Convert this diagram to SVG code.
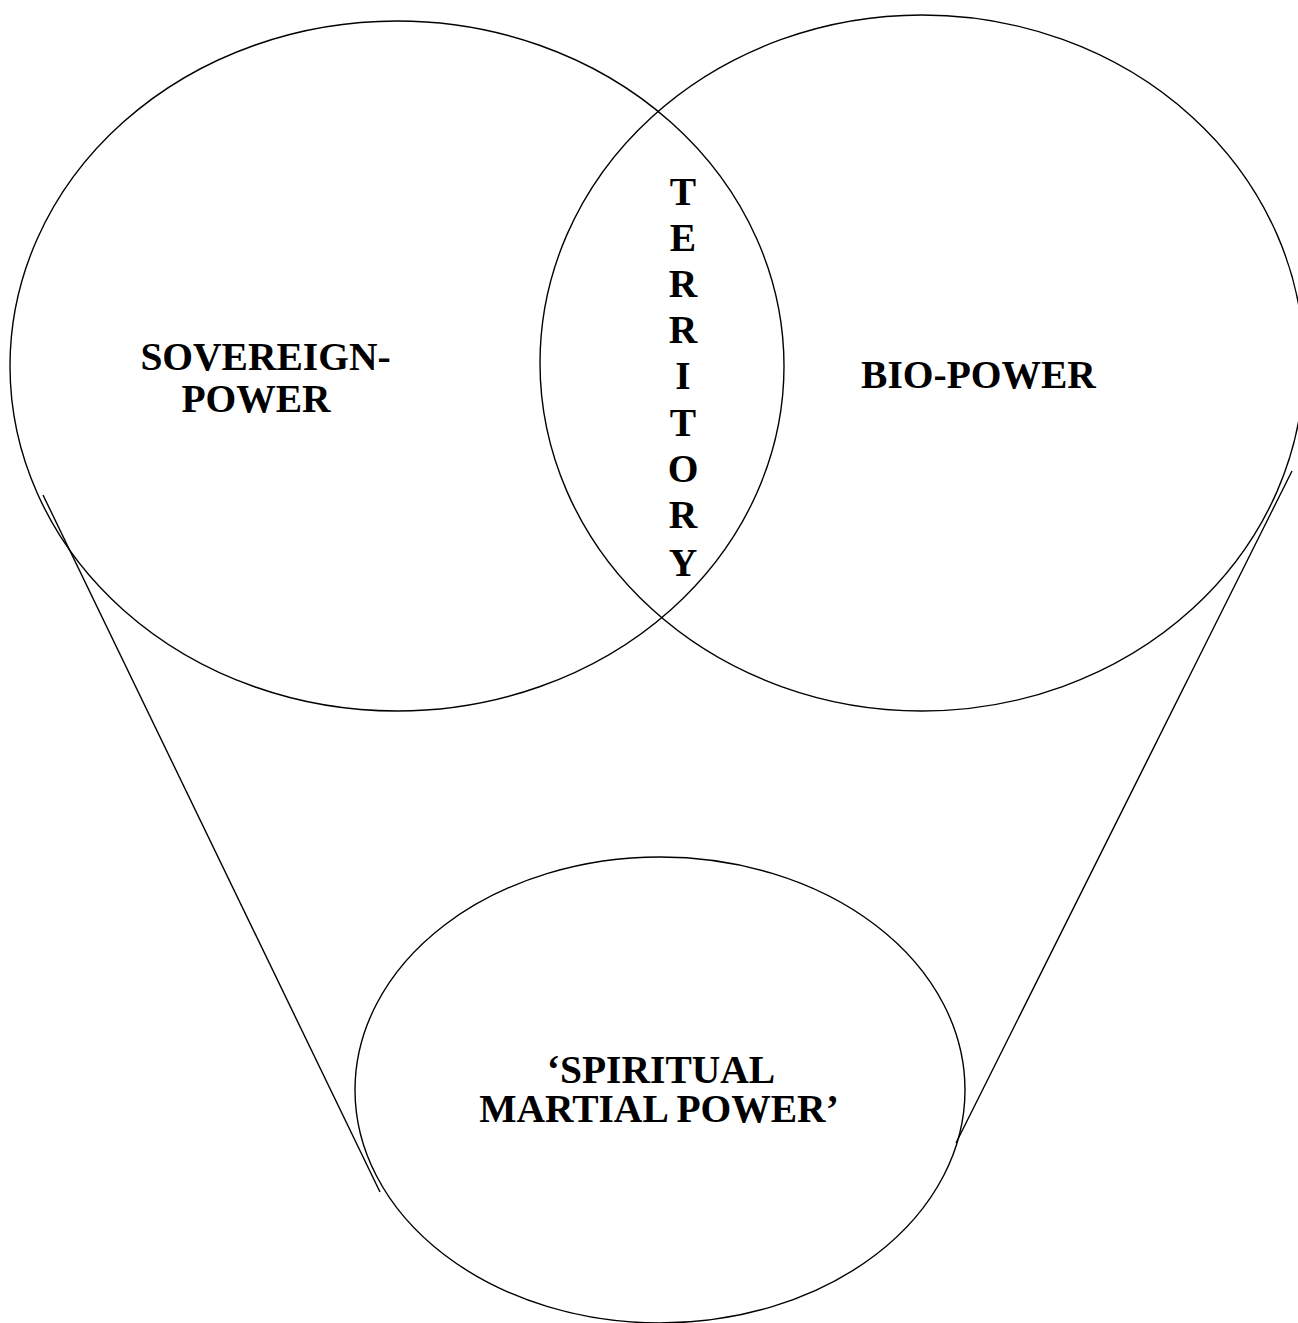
<svg xmlns="http://www.w3.org/2000/svg" width="1298" height="1323" viewBox="0 0 1298 1323">
<style>
.shape{fill:none;stroke:#000;stroke-width:1.4}
.lbl{font-family:"Liberation Serif","Times New Roman",serif;font-weight:bold;font-size:39.5px;fill:#000;text-anchor:middle}
</style>
<rect width="1298" height="1323" fill="#fff"/>
<g id="connectors">
<line class="shape" x1="43" y1="495" x2="380" y2="1192"/>
<line class="shape" x1="1292" y1="471" x2="956" y2="1143"/>
</g>
<g id="sovereign-power">
<ellipse class="shape" cx="397" cy="366" rx="387" ry="345"/>
<text class="lbl" x="265.5" y="370">SOVEREIGN-</text>
<text class="lbl" x="256" y="412">POWER</text>
</g>
<g id="bio-power">
<ellipse class="shape" cx="922" cy="363" rx="382" ry="348"/>
<text class="lbl" x="978.5" y="388">BIO-POWER</text>
</g>
<g id="territory">
<text class="lbl" x="683" y="205">T</text>
<text class="lbl" x="683" y="251">E</text>
<text class="lbl" x="683" y="297">R</text>
<text class="lbl" x="683" y="343">R</text>
<text class="lbl" x="683" y="389">I</text>
<text class="lbl" x="683" y="436">T</text>
<text class="lbl" x="683" y="482">O</text>
<text class="lbl" x="683" y="528">R</text>
<text class="lbl" x="683" y="576">Y</text>
</g>
<g id="spiritual-martial-power">
<ellipse class="shape" cx="660" cy="1090" rx="305" ry="233"/>
<text class="lbl" x="661" y="1083">‘SPIRITUAL</text>
<text class="lbl" x="659" y="1122">MARTIAL POWER’</text>
</g>
</svg>
